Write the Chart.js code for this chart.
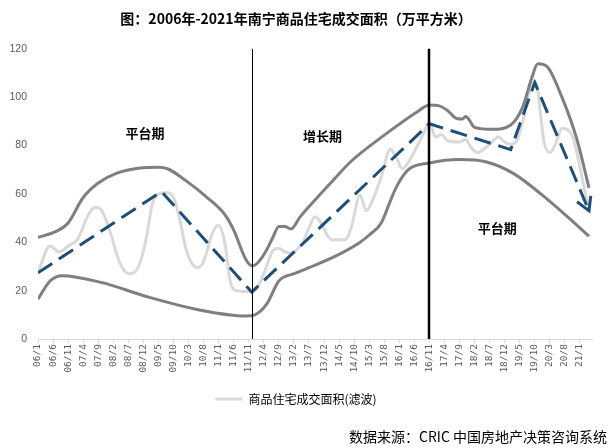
<!doctype html>
<html lang="zh">
<head>
<meta charset="utf-8">
<title>2006年-2021年南宁商品住宅成交面积</title>
<script src="https://cdn.jsdelivr.net/npm/chart.js@4.4.1/dist/chart.umd.min.js"></script>
<style>
  *{box-sizing:border-box}
  body{margin:0;background:#fff}
  #wrap{width:613px;height:448px}
</style>
</head>
<body>
<div id="wrap"><canvas id="chart" width="613" height="448"></canvas></div>
<script>
// Month index 0 = 2006/1; a tick label every 5 months.
const tickLabels = ["06/1","06/6","06/11","07/4","07/9","08/2","08/7","08/12","09/5","09/10",
  "10/3","10/8","11/1","11/6","11/11","12/4","12/9","13/2","13/7","13/12","14/5","14/10",
  "15/3","15/8","16/1","16/6","16/11","17/4","17/9","18/2","18/7","18/12","19/5","19/10",
  "20/3","20/8","21/1"];

// [month index, 万平方米]
const filtered = [[0,27.5],[4,38.5],[7,36],[10,38.5],[13,41],[17,52],[19,54.5],[21,53.5],[24,44],
  [27,32],[30,27],[32,27.5],[34,32],[36,42],[38,56],[40,60],[43,60.5],[45,58.5],[47,50],[49,38],
  [51,31.5],[53,29.5],[55,32],[58,44],[60,47],[62,40],[64,23],[66,20],[70,19.6],[72,20],[75,27],
  [78,36.5],[80,37.5],[82,36],[84,35.5],[86,37],[88,40],[90,46],[92,50.5],[94,48],[96,43],[98,41],
  [102,41],[104,46],[107,59.5],[109,53],[111,57],[114,67],[117,78.5],[119,75],[121,70.5],[123,73],
  [126,80],[128,85],[130,89.5],[132,83.5],[134,84.5],[136,82],[140,81.5],[142,82.5],[144,79],
  [146,77],[148,78.5],[150,80.5],[153,83.5],[155,81.5],[157,80.5],[159,82],[161,90],[163,101],
  [165,106.5],[166,103],[167,92],[168,82],[170,77],[172,81],[174,87],[176,86.5],[178,82],[180,71],[183,53]];

const upperBand = [[0,42],[6,44.5],[10,48],[15,58.5],[20,64.5],[26,68.5],[34,70.7],[40,71],[43,70.4],
  [49,65.6],[56,58.7],[62,51.5],[65,45],[69,33],[71,30.3],[72,30.5],[74,33],[76,37],[78,42],[80,46.5],
  [82,46.5],[84,45.5],[87,50.4],[92,57.5],[98,65.6],[104,73.5],[115,84.3],[126,94],[130,96.8],
  [133,96.5],[136,94.5],[139,91.2],[141,91],[142,92],[143,91],[145,87.5],[151,86.7],[157,88.5],
  [161,96],[164,108],[166,113.8],[169,112.7],[174,100],[179,82.5],[183,62.5]];

const lowerBand = [[0,16.5],[4,24],[8,26.2],[21,23.4],[37,17.2],[54,11.9],[69,9.5],[72,10],[76,14.5],
  [80,24],[85,27],[90,29.5],[100,35],[107,40],[110,43],[114,48],[117,57],[119,62.8],[123,70],
  [130,72.8],[140,74.2],[149,73.2],[158,68.4],[167,60],[176,50.4],[183,42.5]];

const trend = [[0,27.4],[41,61],[71,19.4],[130,89],[157,78.3],[165,106],[183,53]];

// phase boundaries (month index) and phase names
const phaseBreaks = [71, 130];
const phaseLabels = [["平台期", 35.5, 85], ["增长期", 94.5, 84], ["平台期", 152.5, 46]];

const CJK = '"Noto Sans CJK SC", sans-serif';
const pts = (arr) => arr.map(([x, y]) => ({ x, y }));

const extras = {
  id: "extras",
  afterDatasetsDraw(chart) {
    const { ctx, scales: { x, y } } = chart;
    ctx.save();
    // phase boundaries
    phaseBreaks.forEach((m, i) => {
      const px = Math.round(x.getPixelForValue(m)) + (i ? 0 : 0.5);
      ctx.beginPath();
      ctx.lineWidth = i ? 2.5 : 1;
      ctx.strokeStyle = "#000";
      ctx.moveTo(px, y.getPixelForValue(120));
      ctx.lineTo(px, y.getPixelForValue(0));
      ctx.stroke();
    });
    // arrow head at the end of the trend line
    const pts = chart.getDatasetMeta(3).data;
    const a = pts[pts.length - 2], b = pts[pts.length - 1];
    const ang = Math.atan2(b.y - a.y, b.x - a.x);
    ctx.strokeStyle = "#1f4e79";
    ctx.lineWidth = 3;
    ctx.lineCap = "butt";
    ctx.beginPath();
    ctx.moveTo(b.x - 15 * Math.cos(ang - 0.52), b.y - 15 * Math.sin(ang - 0.52));
    ctx.lineTo(b.x, b.y);
    ctx.lineTo(b.x - 15 * Math.cos(ang + 0.52), b.y - 15 * Math.sin(ang + 0.52));
    ctx.stroke();
    // phase names
    ctx.fillStyle = "#000";
    ctx.font = "bold 13px " + CJK;
    ctx.textAlign = "center";
    ctx.textBaseline = "middle";
    phaseLabels.forEach(([t, m, v]) => ctx.fillText(t, x.getPixelForValue(m), y.getPixelForValue(v)));
    ctx.restore();
  },
  afterDraw(chart) {
    const ctx = chart.ctx;
    ctx.save();
    ctx.fillStyle = "#000";
    ctx.font = "14px " + CJK;
    ctx.textAlign = "right";
    ctx.textBaseline = "middle";
    ctx.fillText("数据来源：CRIC 中国房地产决策咨询系统", 607, 437);
    ctx.restore();
  }
};

new Chart(document.getElementById("chart"), {
  type: "line",
  data: {
    datasets: [
      { label: "商品住宅成交面积(滤波)", data: pts(filtered), borderColor: "#d9d9d9", backgroundColor: "#d9d9d9",
        borderWidth: 3, pointRadius: 0, cubicInterpolationMode: "monotone", order: 4 },
      { label: "upper", data: pts(upperBand), borderColor: "#7f7f7f", borderWidth: 3, pointRadius: 0,
        cubicInterpolationMode: "monotone", order: 3 },
      { label: "lower", data: pts(lowerBand), borderColor: "#7f7f7f", borderWidth: 3, pointRadius: 0,
        cubicInterpolationMode: "monotone", order: 2 },
      { label: "trend", data: pts(trend), borderColor: "#1f4e79", borderWidth: 3, borderDash: [17, 8],
        pointRadius: 0, tension: 0, order: 1 }
    ]
  },
  options: {
    responsive: false,
    animation: false,
    devicePixelRatio: 1,
    layout: { padding: { left: 0, right: 21, top: 0, bottom: 33 } },
    plugins: {
      title: { display: true, text: "图：2006年-2021年南宁商品住宅成交面积（万平方米）", color: "#000",
        font: { family: CJK, size: 14, weight: "bold" }, padding: { top: 10, bottom: 22 } },
      legend: {
        position: "bottom",
        labels: {
          boxWidth: 27, boxHeight: 3, padding: 8, color: "#262626",
          font: { family: CJK, size: 12 },
          generateLabels: (chart) => [{ text: chart.data.datasets[0].label, fillStyle: "#d9d9d9",
            strokeStyle: "#d9d9d9", lineWidth: 0, datasetIndex: 0, hidden: false }]
        }
      },
      tooltip: { enabled: false }
    },
    scales: {
      x: {
        type: "linear", min: 0, max: 184,
        afterBuildTicks: (s) => { s.ticks = tickLabels.map((_, i) => ({ value: i * 5 })); },
        ticks: { autoSkip: false, minRotation: 90, maxRotation: 90, padding: 1, color: "#595959",
          font: { family: '"DejaVu Sans Mono", monospace', size: 9.5 },
          callback: (v) => tickLabels[v / 5] },
        grid: { drawOnChartArea: false, drawTicks: true, tickLength: 4, color: "#d9d9d9" },
        border: { color: "#d9d9d9" },
        afterFit: (s) => { s.height = 46; }
      },
      y: {
        min: 0, max: 120,
        ticks: { stepSize: 20, padding: 11, color: "#595959", font: { family: '"Liberation Sans", sans-serif', size: 10.5 } },
        grid: { display: false, drawTicks: false },
        border: { display: false },
        afterFit: (s) => { s.width = 38; }
      }
    }
  },
  plugins: [extras]
});
</script>
</body>
</html>
